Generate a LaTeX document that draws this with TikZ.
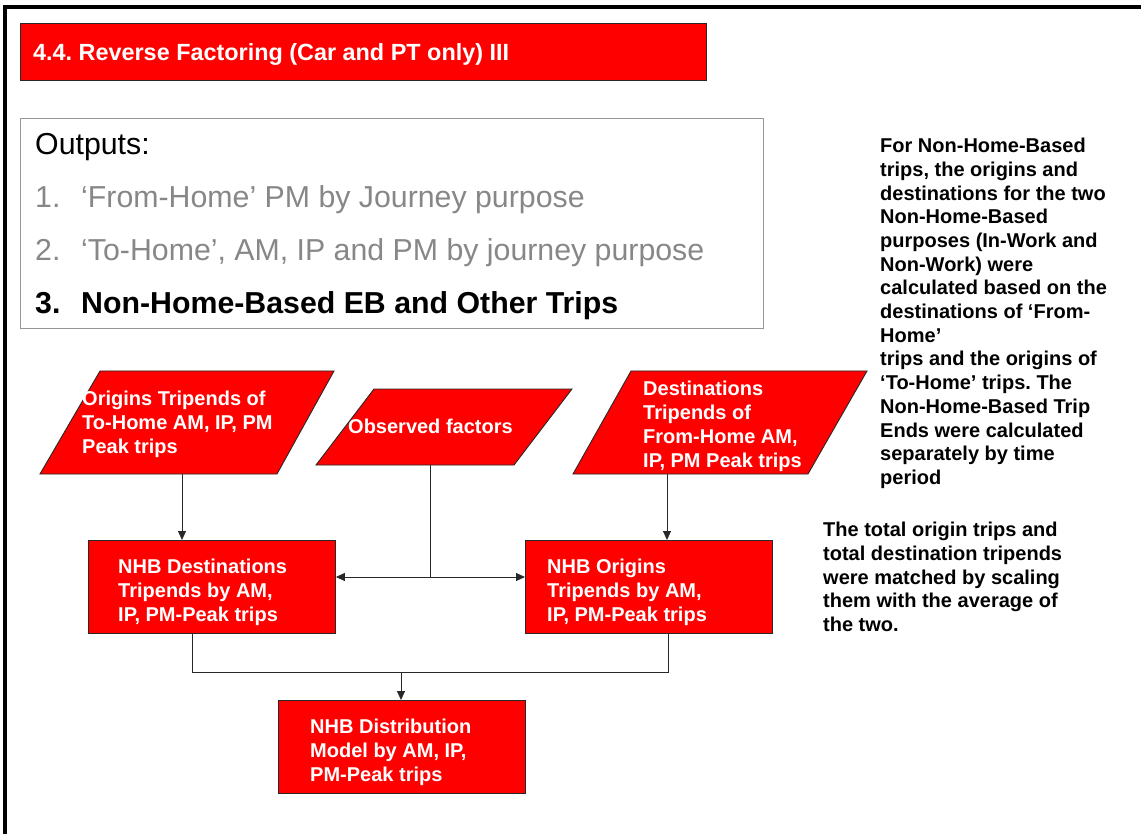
\documentclass[tikz,border=0pt]{standalone}
\usepackage{fontspec}
\setmainfont{Liberation Sans}
\usetikzlibrary{arrows.meta}
\frenchspacing
\definecolor{slidered}{RGB}{255,0,0}
\definecolor{itemgray}{RGB}{135,135,135}
\definecolor{boxgray}{RGB}{150,150,150}
\definecolor{edgegray}{RGB}{40,40,40}
\tikzset{
  redshape/.style={fill=slidered, draw=edgegray, line width=0.9pt},
  redtext/.style={anchor=north west, inner sep=0pt, align=left, text=white,
    font=\fontsize{20}{23.8}\selectfont\bfseries\frenchspacing},
  sidetext/.style={anchor=north west, inner sep=0pt, align=left, text=black,
    font=\fontsize{20}{23.7}\selectfont\bfseries\frenchspacing},
  bigtext/.style={anchor=base west, inner sep=0pt, font=\fontsize{30.3}{34}\selectfont},
  conn/.style={draw=edgegray, line width=0.8pt},
  arr/.style={conn, -{Triangle[length=9pt,width=8pt]}},
}
\begin{document}
\begin{tikzpicture}[x=1pt,y=-1pt]
\useasboundingbox (0,0) rectangle (1141,834);
% frame lines
\fill[black] (3,5) rectangle (1141,9);
\fill[black] (3,5) rectangle (7,834);
% title
\node[redshape, anchor=north west, minimum width=686pt, minimum height=57pt, inner sep=0pt] (title) at (20,23) {};
\node[anchor=base west, inner sep=0pt, text=white, font=\fontsize{23.4}{26}\selectfont\bfseries] (titletext) at (33,60.5) {4.4. Reverse Factoring (Car and PT only) III};
% outputs box
\node[draw=boxgray, line width=0.8pt, anchor=north west, minimum width=743pt, minimum height=210pt, inner sep=0pt] (outbox) at (20,118) {};
\node[bigtext] (outhead) at (35,155) {Outputs:};
\node[bigtext, text=itemgray] (out1n) at (35,208) {1.};
\node[bigtext, text=itemgray] (out1) at (81,208) {‘From-Home’ PM by Journey purpose};
\node[bigtext, text=itemgray] (out2n) at (35,261) {2.};
\node[bigtext, text=itemgray] (out2) at (81,261) {‘To-Home’, AM, IP and PM by journey purpose};
\node[bigtext, font=\fontsize{30.3}{34}\selectfont\bfseries] (out3n) at (35,314) {3.};
\node[bigtext, font=\fontsize{30.3}{34}\selectfont\bfseries] (out3) at (81,314) {Non-Home-Based EB and Other Trips};
% parallelograms
\path[redshape] (100,371) -- (334,371) -- (277,474) -- (40,474) -- cycle;
\coordinate (p1b) at (182,474);
\node[redtext] (p1) at (82,391) {Origins Tripends of\\To-Home AM, IP, PM\\Peak trips};
\path[redshape] (374,389) -- (572,389) -- (514,465) -- (316,465) -- cycle;
\coordinate (p2b) at (430,465);
\node[redtext] (p2) at (348,419) {Observed factors};
\path[redshape] (631,371) -- (867,371) -- (808,474) -- (573,474) -- cycle;
\coordinate (p3b) at (667,474);
\node[redtext] (p3) at (643,381) {Destinations\\Tripends of\\From-Home AM,\\IP, PM Peak trips};
% rectangles
\node[redshape, anchor=north west, minimum width=247pt, minimum height=93pt, inner sep=0pt] (dest) at (88,540) {};
\node[redtext] (desttext) at (118,559) {NHB Destinations\\Tripends by AM,\\IP, PM-Peak trips};
\node[redshape, anchor=north west, minimum width=247pt, minimum height=93pt, inner sep=0pt] (orig) at (525,540) {};
\node[redtext] (origtext) at (547,559) {NHB Origins\\Tripends by AM,\\IP, PM-Peak trips};
\node[redshape, anchor=north west, minimum width=247pt, minimum height=93pt, inner sep=0pt] (dist) at (278,700) {};
\node[redtext] (disttext) at (310,719) {NHB Distribution\\Model by AM, IP,\\PM-Peak trips};
% connectors
\draw[arr] (p1b) -- (p1b |- dest.north);
\draw[arr] (p3b) -- (p3b |- orig.north);
\coordinate (mid) at (430,577);
\draw[conn] (p2b) -- (mid);
\draw[arr] (mid) -- (dest.east |- mid);
\draw[arr] (mid) -- (orig.west |- mid);
\coordinate (jl) at (192,672);
\coordinate (jr) at (668,672);
\coordinate (jm) at (401,672);
\draw[conn] (jl |- dest.south) -- (jl) -- (jr) -- (jr |- orig.south);
\draw[arr] (jm) -- (jm |- dist.north);
% side notes
\node[sidetext] (note1) at (880,138) {For Non-Home-Based\\trips, the origins and\\destinations for the two\\Non-Home-Based\\purposes (In-Work and\\Non-Work) were\\calculated based on the\\destinations of ‘From-\\Home’\\trips and the origins of\\‘To-Home’ trips. The\\Non-Home-Based Trip\\Ends were calculated\\separately by time\\period};
\node[sidetext] (note2) at (823,522) {The total origin trips and\\total destination tripends\\were matched by scaling\\them with the average of\\the two.};
\end{tikzpicture}
\end{document}
